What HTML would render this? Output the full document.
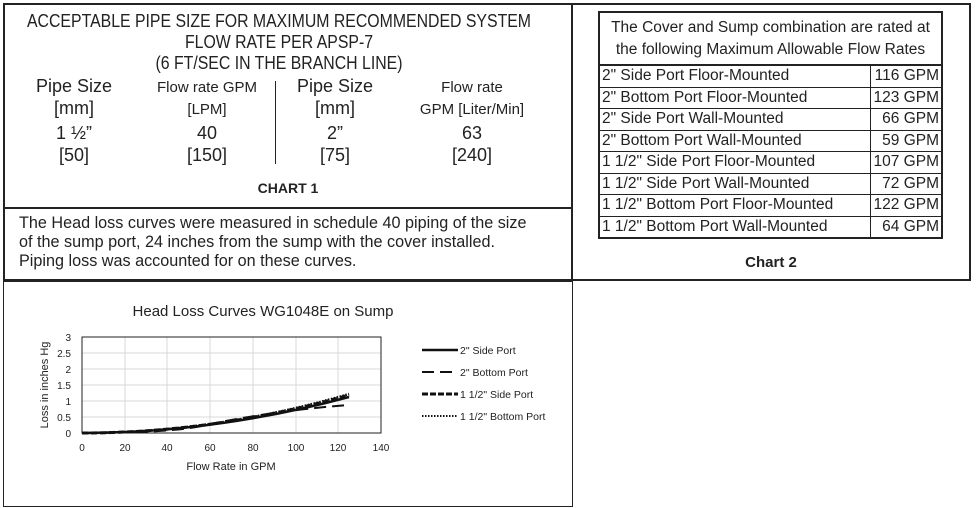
<!DOCTYPE html>
<html><head><style>
body{margin:0;width:976px;height:508px;background:#fff;position:relative;font-family:"Liberation Sans",sans-serif;color:#222;overflow:hidden}
.a{position:absolute;white-space:nowrap}
.c{text-align:center;transform:translateX(-50%)}
.box{position:absolute;border:2px solid #222;box-sizing:border-box}
table{border-collapse:collapse;font-size:15.5px}
td{border:1.5px solid #222;padding:0 2px;height:20.5px;line-height:20px}
</style></head><body>
<div class="box" style="left:3px;top:3px;width:570px;height:206px"></div>
<div class="box" style="left:3px;top:207px;width:570px;height:74px"></div>
<div class="box" style="left:571px;top:3px;width:400px;height:278px"></div>
<div class="box" style="left:3px;top:281px;width:570px;height:226px;border-width:1px"></div>

<div class="a" style="left:279px;top:11px;font-size:18px;line-height:21px;text-align:center;transform:translateX(-50%) scaleX(0.88)">ACCEPTABLE PIPE SIZE FOR MAXIMUM RECOMMENDED SYSTEM<br>FLOW RATE PER APSP-7<br>(6 FT/SEC IN THE BRANCH LINE)</div>
<div class="a c" style="left:74px;top:75px;font-size:18px;line-height:22px;text-align:center">Pipe Size<br>[mm]</div>
<div class="a c" style="left:207px;top:77px;font-size:15px;line-height:22px;text-align:center">Flow rate GPM<br>[LPM]</div>
<div class="a c" style="left:335px;top:75px;font-size:18px;line-height:22px;text-align:center">Pipe Size<br>[mm]</div>
<div class="a c" style="left:472px;top:77px;font-size:15px;line-height:22px;text-align:center">Flow rate<br>GPM [Liter/Min]</div>
<div class="a" style="left:275px;top:81px;width:1px;height:83px;background:#222"></div>
<div class="a c" style="left:74px;top:122px;font-size:18px;line-height:22px;text-align:center">1 ½”<br>[50]</div>
<div class="a c" style="left:207px;top:122px;font-size:18px;line-height:22px;text-align:center">40<br>[150]</div>
<div class="a c" style="left:335px;top:122px;font-size:18px;line-height:22px;text-align:center">2”<br>[75]</div>
<div class="a c" style="left:472px;top:122px;font-size:18px;line-height:22px;text-align:center">63<br>[240]</div>
<div class="a c" style="left:288px;top:180px;font-size:14px;font-weight:bold">CHART 1</div>
<div class="a" style="left:19px;top:214px;font-size:16.2px;line-height:19px">The Head loss curves were measured in schedule 40 piping of the size<br>of the sump port, 24 inches from the sump with the cover installed.<br>Piping loss was accounted for on these curves.</div>

<table class="a" style="left:598px;top:11px;width:345px;border:2px solid #222">
<tr><td colspan="2" style="text-align:center;height:51px;line-height:22px;border-bottom:2px solid #222">The Cover and Sump combination are rated at<br>the following Maximum Allowable Flow Rates</td></tr>
<tr><td>2" Side Port Floor-Mounted</td><td style="text-align:right;width:66px">116 GPM</td></tr>
<tr><td>2" Bottom Port Floor-Mounted</td><td style="text-align:right">123 GPM</td></tr>
<tr><td>2" Side Port Wall-Mounted</td><td style="text-align:right">66 GPM</td></tr>
<tr><td>2" Bottom Port Wall-Mounted</td><td style="text-align:right">59 GPM</td></tr>
<tr><td>1 1/2" Side Port Floor-Mounted</td><td style="text-align:right">107 GPM</td></tr>
<tr><td>1 1/2" Side Port Wall-Mounted</td><td style="text-align:right">72 GPM</td></tr>
<tr><td>1 1/2" Bottom Port Floor-Mounted</td><td style="text-align:right">122 GPM</td></tr>
<tr><td>1 1/2" Bottom Port Wall-Mounted</td><td style="text-align:right">64 GPM</td></tr>
</table>
<div class="a c" style="left:771px;top:254px;font-size:15px;font-weight:bold">Chart 2</div>

<svg class="a" style="left:0;top:0" width="976" height="508" font-family="Liberation Sans, sans-serif">
<text x="263" y="316" font-size="15" text-anchor="middle" fill="#222">Head Loss Curves WG1048E on Sump</text>
<g stroke="#d9d9d9" stroke-width="1">
<line x1="82" y1="337" x2="381" y2="337"/><line x1="82" y1="353" x2="381" y2="353"/><line x1="82" y1="369" x2="381" y2="369"/><line x1="82" y1="385" x2="381" y2="385"/><line x1="82" y1="401" x2="381" y2="401"/><line x1="82" y1="417" x2="381" y2="417"/>
<line x1="125" y1="337" x2="125" y2="433"/><line x1="167" y1="337" x2="167" y2="433"/><line x1="210" y1="337" x2="210" y2="433"/><line x1="253" y1="337" x2="253" y2="433"/><line x1="296" y1="337" x2="296" y2="433"/><line x1="338" y1="337" x2="338" y2="433"/>
</g>
<rect x="82" y="337" width="299" height="96" fill="none" stroke="#222" stroke-width="1"/>
<g font-size="10" fill="#222" text-anchor="end">
<text x="71" y="341">3</text><text x="71" y="357">2.5</text><text x="71" y="373">2</text><text x="71" y="389">1.5</text><text x="71" y="405">1</text><text x="71" y="421">0.5</text><text x="71" y="437">0</text>
</g>
<g font-size="10" fill="#222" text-anchor="middle">
<text x="82" y="451">0</text><text x="125" y="451">20</text><text x="167" y="451">40</text><text x="210" y="451">60</text><text x="253" y="451">80</text><text x="296" y="451">100</text><text x="338" y="451">120</text><text x="381" y="451">140</text>
</g>
<text x="231" y="470" font-size="11" text-anchor="middle" fill="#222">Flow Rate in GPM</text>
<text transform="translate(48,385) rotate(-90)" font-size="11" text-anchor="middle" fill="#222">Loss in inches Hg</text>
<g fill="none" stroke="#111">
<path d="M82 433 Q215 433 349 397" stroke-width="2.5"/>
<path d="M82 433 Q215 433 349 394" stroke-width="2.5" stroke-dasharray="1.5 1.5"/>
<path d="M82 433 Q215 433 349 395" stroke-width="3" stroke-dasharray="6 3"/>
<path d="M82 433 Q180 433 210 424 Q280 410 349 405" stroke-width="2" stroke-dasharray="12 6"/>
</g>
<g stroke="#111">
<line x1="422" y1="350" x2="458" y2="350" stroke-width="2.5"/>
<line x1="422" y1="372" x2="458" y2="372" stroke-width="2" stroke-dasharray="12 6"/>
<line x1="422" y1="394" x2="458" y2="394" stroke-width="3" stroke-dasharray="6 2"/>
<line x1="422" y1="416" x2="458" y2="416" stroke-width="2" stroke-dasharray="1.5 1.5"/>
</g>
<g font-size="10.5" fill="#222">
<text x="460" y="354">2" Side Port</text><text x="460" y="376">2" Bottom Port</text><text x="460" y="398">1 1/2" Side Port</text><text x="460" y="420">1 1/2" Bottom Port</text>
</g>
</svg>
</body></html>
